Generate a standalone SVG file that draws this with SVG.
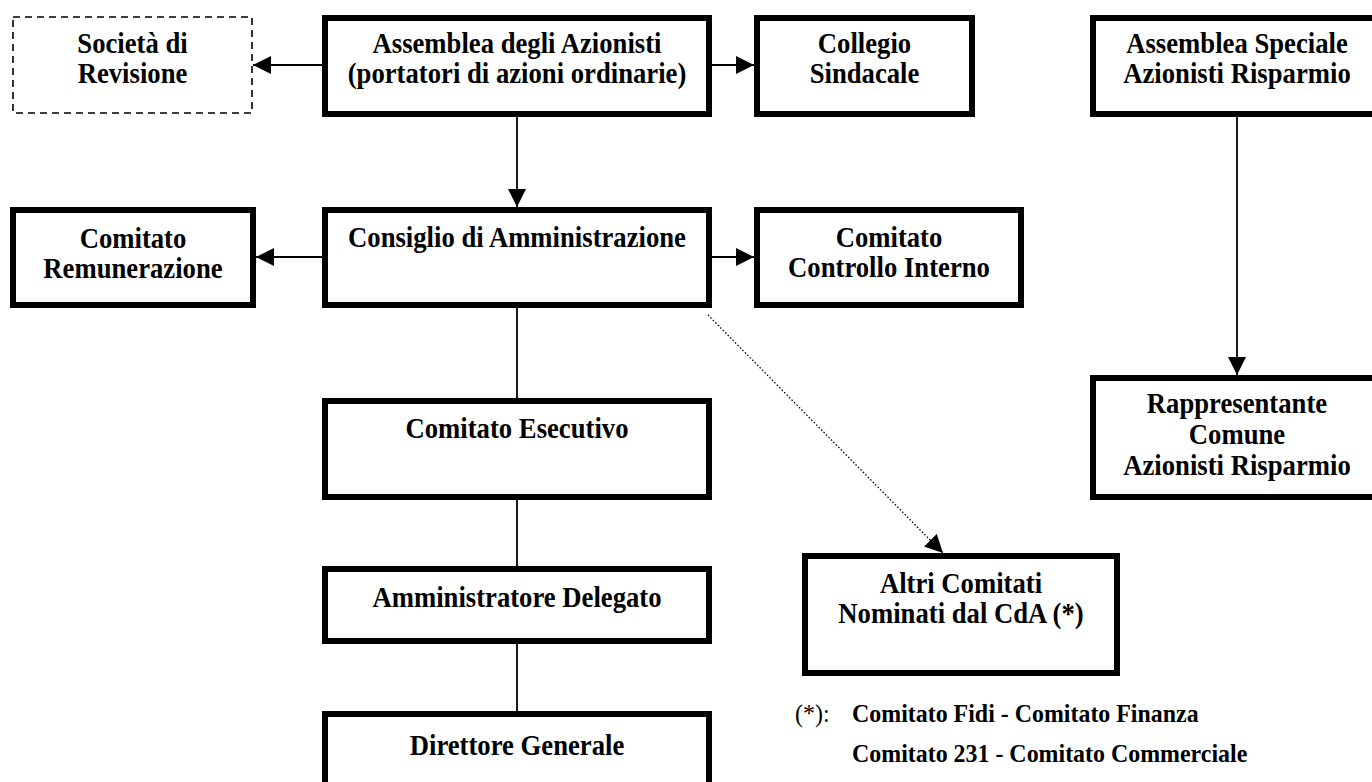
<svg xmlns="http://www.w3.org/2000/svg" width="1372" height="782" viewBox="0 0 1372 782">
<defs>
<marker id="ah" viewBox="0 0 18 18" refX="18" refY="9" markerWidth="18" markerHeight="18" markerUnits="userSpaceOnUse" orient="auto">
<path d="M0,0 L18,9 L0,18 Z" fill="#000"/>
</marker>
<style>
.box{fill:#fff;stroke:#000;stroke-width:6}
.dbox{fill:#fff;stroke:#000;stroke-width:1.6;stroke-dasharray:7,5}
.t{font-family:"Liberation Serif","Times New Roman",serif;font-weight:bold;font-size:29px;text-anchor:middle;fill:#000}
.fn{font-family:"Liberation Serif","Times New Roman",serif;font-size:26px;fill:#000}
.fnb{font-weight:bold}
.c{stroke:#000;stroke-width:1.8;fill:none}
.arr{marker-end:url(#ah)}
.dot{stroke:#000;stroke-width:1.3;stroke-dasharray:1.5,2;fill:none;marker-end:url(#ah)}
</style>
</defs>
<rect width="1372" height="782" fill="#fff"/>
<g id="connectors">
<line class="c arr" x1="322" y1="65" x2="253" y2="65"/>
<line class="c arr" x1="712" y1="65" x2="754" y2="65"/>
<line class="c arr" x1="517" y1="117" x2="517" y2="207"/>
<line class="c arr" x1="322" y1="257" x2="256" y2="257"/>
<line class="c arr" x1="712" y1="257" x2="754" y2="257"/>
<line class="c" x1="517" y1="308" x2="517" y2="398"/>
<line class="c" x1="517" y1="500" x2="517" y2="566"/>
<line class="c" x1="517" y1="644" x2="517" y2="711"/>
<line class="c arr" x1="1237" y1="117" x2="1237" y2="375"/>
<line class="dot" x1="708" y1="315" x2="943" y2="553"/>
</g>
<g id="societa">
<rect class="dbox" x="13" y="17" width="239" height="96"/>
<g transform="translate(132.5,0) scale(0.92,1)">
<text class="t" x="0" y="53">Società di</text>
<text class="t" x="0" y="83">Revisione</text>
</g>
</g>
<g id="assemblea">
<rect class="box" x="325" y="18" width="384" height="96"/>
<g transform="translate(517,0) scale(0.92,1)">
<text class="t" x="0" y="53">Assemblea degli Azionisti</text>
<text class="t" x="0" y="83">(portatori di azioni ordinarie)</text>
</g>
</g>
<g id="collegio">
<rect class="box" x="757" y="18" width="215" height="96"/>
<g transform="translate(864.5,0) scale(0.92,1)">
<text class="t" x="0" y="53">Collegio</text>
<text class="t" x="0" y="83">Sindacale</text>
</g>
</g>
<g id="assemblea-speciale">
<rect class="box" x="1093" y="18" width="288" height="96"/>
<g transform="translate(1237,0) scale(0.92,1)">
<text class="t" x="0" y="53">Assemblea Speciale</text>
<text class="t" x="0" y="83">Azionisti Risparmio</text>
</g>
</g>
<g id="remunerazione">
<rect class="box" x="13" y="210" width="240" height="95"/>
<g transform="translate(133,0) scale(0.92,1)">
<text class="t" x="0" y="248">Comitato</text>
<text class="t" x="0" y="278">Remunerazione</text>
</g>
</g>
<g id="consiglio">
<rect class="box" x="325" y="210" width="384" height="95"/>
<g transform="translate(517,0) scale(0.92,1)">
<text class="t" x="0" y="247">Consiglio di Amministrazione</text>
</g>
</g>
<g id="controllo">
<rect class="box" x="757" y="210" width="264" height="95"/>
<g transform="translate(889,0) scale(0.92,1)">
<text class="t" x="0" y="247">Comitato</text>
<text class="t" x="0" y="277">Controllo Interno</text>
</g>
</g>
<g id="esecutivo">
<rect class="box" x="325" y="401" width="384" height="96"/>
<g transform="translate(517,0) scale(0.92,1)">
<text class="t" x="0" y="438">Comitato Esecutivo</text>
</g>
</g>
<g id="rappresentante">
<rect class="box" x="1093" y="378" width="288" height="119"/>
<g transform="translate(1237,0) scale(0.92,1)">
<text class="t" x="0" y="413">Rappresentante</text>
<text class="t" x="0" y="444">Comune</text>
<text class="t" x="0" y="475">Azionisti Risparmio</text>
</g>
</g>
<g id="amministratore">
<rect class="box" x="325" y="569" width="384" height="72"/>
<g transform="translate(517,0) scale(0.92,1)">
<text class="t" x="0" y="607">Amministratore Delegato</text>
</g>
</g>
<g id="direttore">
<rect class="box" x="325" y="714" width="384" height="90"/>
<g transform="translate(517,0) scale(0.92,1)">
<text class="t" x="0" y="755">Direttore Generale</text>
</g>
</g>
<g id="altri">
<rect class="box" x="805" y="556" width="312" height="117"/>
<g transform="translate(961,0) scale(0.92,1)">
<text class="t" x="0" y="593">Altri Comitati</text>
<text class="t" x="0" y="623">Nominati dal CdA (*)</text>
</g>
</g>
<g id="nota">
<text class="fn" transform="translate(795,0) scale(0.92,1)" x="0" y="722">(*):</text>
<g transform="translate(852,0) scale(0.92,1)">
<text class="fn fnb" x="0" y="722">Comitato Fidi - Comitato Finanza</text>
<text class="fn fnb" x="0" y="762">Comitato 231 - Comitato Commerciale</text>
</g>
</g>
</svg>
